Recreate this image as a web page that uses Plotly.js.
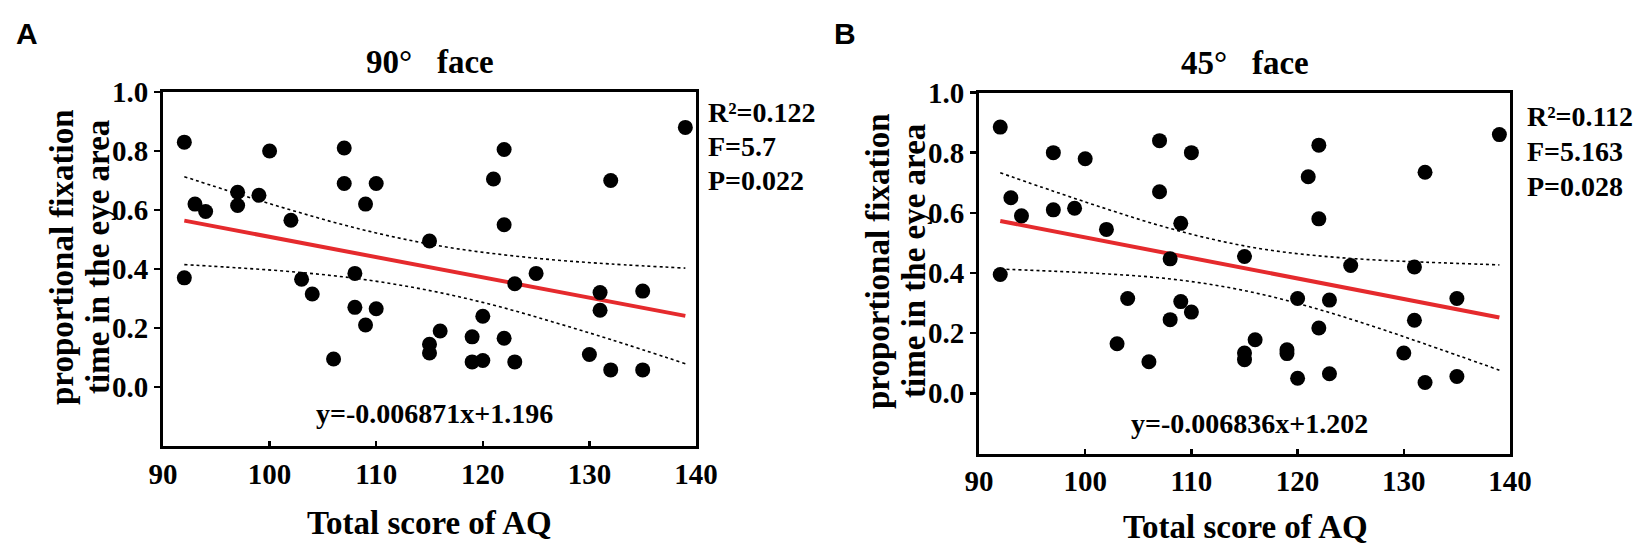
<!DOCTYPE html>
<html>
<head>
<meta charset="utf-8">
<script src="https://cdn.plot.ly/plotly-3.0.1.min.js"></script>
<style>
  html, body { margin: 0; padding: 0; background: white; }
  #chart { width: 1646px; height: 546px; }
</style>
</head>
<body>
<div id="chart"></div>
<script>
// Panel A: 90 degree face
const scoreA = [92, 92, 93, 94, 97, 97, 99, 100, 102, 103, 104, 106, 107, 107, 108, 108, 109, 109, 110, 110,
    115, 115, 115, 116, 119, 119, 120, 120, 121, 122, 122, 122, 123, 123, 125, 130, 131, 131, 132, 132, 135, 135, 139];
const fixA = [0.83, 0.37, 0.62, 0.595, 0.66, 0.615, 0.65, 0.80, 0.565, 0.365, 0.315, 0.095, 0.81, 0.69, 0.385, 0.27, 0.62, 0.21, 0.69, 0.265,
    0.495, 0.145, 0.115, 0.19, 0.17, 0.085, 0.24, 0.09, 0.705, 0.805, 0.55, 0.165, 0.35, 0.085, 0.385, 0.11, 0.32, 0.26, 0.70, 0.058, 0.325, 0.058, 0.88];

// Panel B: 45 degree face
const scoreB = [92, 92, 93, 94, 97, 97, 99, 100, 102, 103, 104, 106, 107, 107, 108, 108, 109, 109, 110, 110,
    115, 115, 115, 116, 119, 119, 120, 120, 121, 122, 122, 122, 123, 123, 125, 130, 131, 131, 132, 132, 135, 135, 139];
const fixB = [0.885, 0.395, 0.65, 0.59, 0.80, 0.61, 0.615, 0.78, 0.545, 0.165, 0.315, 0.105, 0.84, 0.67, 0.447, 0.245, 0.565, 0.305, 0.80, 0.27,
    0.455, 0.134, 0.112, 0.178, 0.145, 0.132, 0.315, 0.05, 0.72, 0.825, 0.58, 0.217, 0.31, 0.065, 0.425, 0.134, 0.42, 0.243, 0.735, 0.036, 0.315, 0.056, 0.86];

// fitted line ends and confidence band
const fitX = [92, 139];
const fitA = [0.564, 0.241];
const fitB = [0.573, 0.252];

const bandX = [92, 97, 102, 107, 112, 117, 122, 127, 132, 139];
const upperA = [0.713, 0.655, 0.600, 0.549, 0.506, 0.472, 0.448, 0.430, 0.417, 0.403];
const lowerA = [0.415, 0.404, 0.391, 0.373, 0.347, 0.312, 0.268, 0.216, 0.161, 0.079];
const upperB = [0.733, 0.672, 0.613, 0.558, 0.512, 0.478, 0.457, 0.444, 0.436, 0.427];
const lowerB = [0.413, 0.406, 0.397, 0.384, 0.361, 0.326, 0.279, 0.224, 0.164, 0.077];

const xTicks = [90, 100, 110, 120, 130, 140];
const yTicks = [0.0, 0.2, 0.4, 0.6, 0.8, 1.0];

const panelTitles = ['90°\u00a0\u00a0\u00a0face', '45°\u00a0\u00a0\u00a0face'];
const yTitleLines = ['proportional fixation', 'time in the eye area'];
const xTitle = 'Total score of AQ';
const equations = ['y=-0.006871x+1.196', 'y=-0.006836x+1.202'];
const statsA = ['R²=0.122', 'F=5.7', 'P=0.022'];
const statsB = ['R²=0.112', 'F=5.163', 'P=0.028'];

const W = 1646, H = 546;
const serif = 'Liberation Serif, Times New Roman, serif';
const sans = 'Liberation Sans, Arial, sans-serif';

function px(x) { return x / W; }
function py(y) { return 1 - y / H; }

function panelTraces(xs, ys, fit, upper, lower, xa, ya) {
    const dotted = { color: 'black', width: 1.6, dash: 'dot', shape: 'spline' };
    return [
        { x: bandX, y: upper, xaxis: xa, yaxis: ya, mode: 'lines', line: dotted, hoverinfo: 'none' },
        { x: bandX, y: lower, xaxis: xa, yaxis: ya, mode: 'lines', line: dotted, hoverinfo: 'none' },
        { x: fitX, y: fit, xaxis: xa, yaxis: ya, mode: 'lines', line: { color: '#e52a2d', width: 4 }, hoverinfo: 'none' },
        { x: xs, y: ys, xaxis: xa, yaxis: ya, mode: 'markers', marker: { color: 'black', size: 15 }, hoverinfo: 'none' }
    ];
}

function xAxis(domain, anchor) {
    return {
        domain: domain, anchor: anchor, range: [90, 140],
        tickvals: xTicks, ticks: 'inside', ticklen: 5, tickwidth: 2.5, tickcolor: 'black',
        showline: true, linewidth: 3, linecolor: 'black', mirror: true,
        showgrid: false, zeroline: false,
        tickfont: { family: serif, size: 29, weight: 'bold', color: 'black' }
    };
}

function yAxis(domain, anchor) {
    return {
        domain: domain, anchor: anchor, range: [-0.2, 1.0],
        tickvals: yTicks, tickformat: '.1f', ticks: 'outside', ticklen: 6, tickwidth: 2.5, tickcolor: 'black',
        showline: true, linewidth: 3, linecolor: 'black', mirror: true,
        showgrid: false, zeroline: false,
        tickfont: { family: serif, size: 29, weight: 'bold', color: 'black' }
    };
}

function text(t, x, y, size, opts) {
    return Object.assign({
        text: t, x: px(x), y: py(y), xref: 'paper', yref: 'paper',
        showarrow: false, xanchor: 'center', yanchor: 'middle',
        font: { family: serif, size: size, weight: 'bold', color: 'black' }
    }, opts || {});
}

function drawChart() {
    const data = [
        ...panelTraces(scoreA, fixA, fitA, upperA, lowerA, 'x', 'y'),
        ...panelTraces(scoreB, fixB, fitB, upperB, lowerB, 'x2', 'y2')
    ];

    const labelFont = { family: sans, size: 30, weight: 'bold', color: 'black' };
    const annotations = [
        text('A', 27, 33, 30, { font: labelFont }),
        text('B', 845, 33, 30, { font: labelFont }),
        text(panelTitles[0], 430, 62, 33),
        text(panelTitles[1], 1245, 63, 33),
        text(yTitleLines[0], 62, 257, 33, { textangle: -90 }),
        text(yTitleLines[1], 98, 257, 33, { textangle: -90 }),
        text(yTitleLines[0], 878, 261, 33, { textangle: -90 }),
        text(yTitleLines[1], 914, 261, 33, { textangle: -90 }),
        text(xTitle, 430, 523, 33),
        text(xTitle, 1245, 527, 33),
        { text: equations[0], x: 115.5, y: -0.09, xref: 'x', yref: 'y', showarrow: false,
          font: { family: serif, size: 28, weight: 'bold', color: 'black' } },
        { text: equations[1], x: 115.5, y: -0.10, xref: 'x2', yref: 'y2', showarrow: false,
          font: { family: serif, size: 28, weight: 'bold', color: 'black' } }
    ];

    statsA.forEach((s, i) => annotations.push(text(s, 706, 113 + i * 34, 28, { xanchor: 'left' })));
    statsB.forEach((s, i) => annotations.push(text(s, 1525, 116 + i * 35, 28, { xanchor: 'left' })));

    const layout = {
        width: W, height: H,
        margin: { l: 0, r: 0, t: 0, b: 0 },
        paper_bgcolor: 'white',
        plot_bgcolor: 'white',
        showlegend: false,
        xaxis: xAxis([px(163), px(696)], 'y'),
        yaxis: yAxis([py(446), py(92)], 'x'),
        xaxis2: xAxis([px(979), px(1510)], 'y2'),
        yaxis2: yAxis([py(453.5), py(92.5)], 'x2'),
        annotations: annotations
    };

    Plotly.newPlot('chart', data, layout, { staticPlot: true });
}

document.addEventListener('DOMContentLoaded', drawChart);
</script>
</body>
</html>
